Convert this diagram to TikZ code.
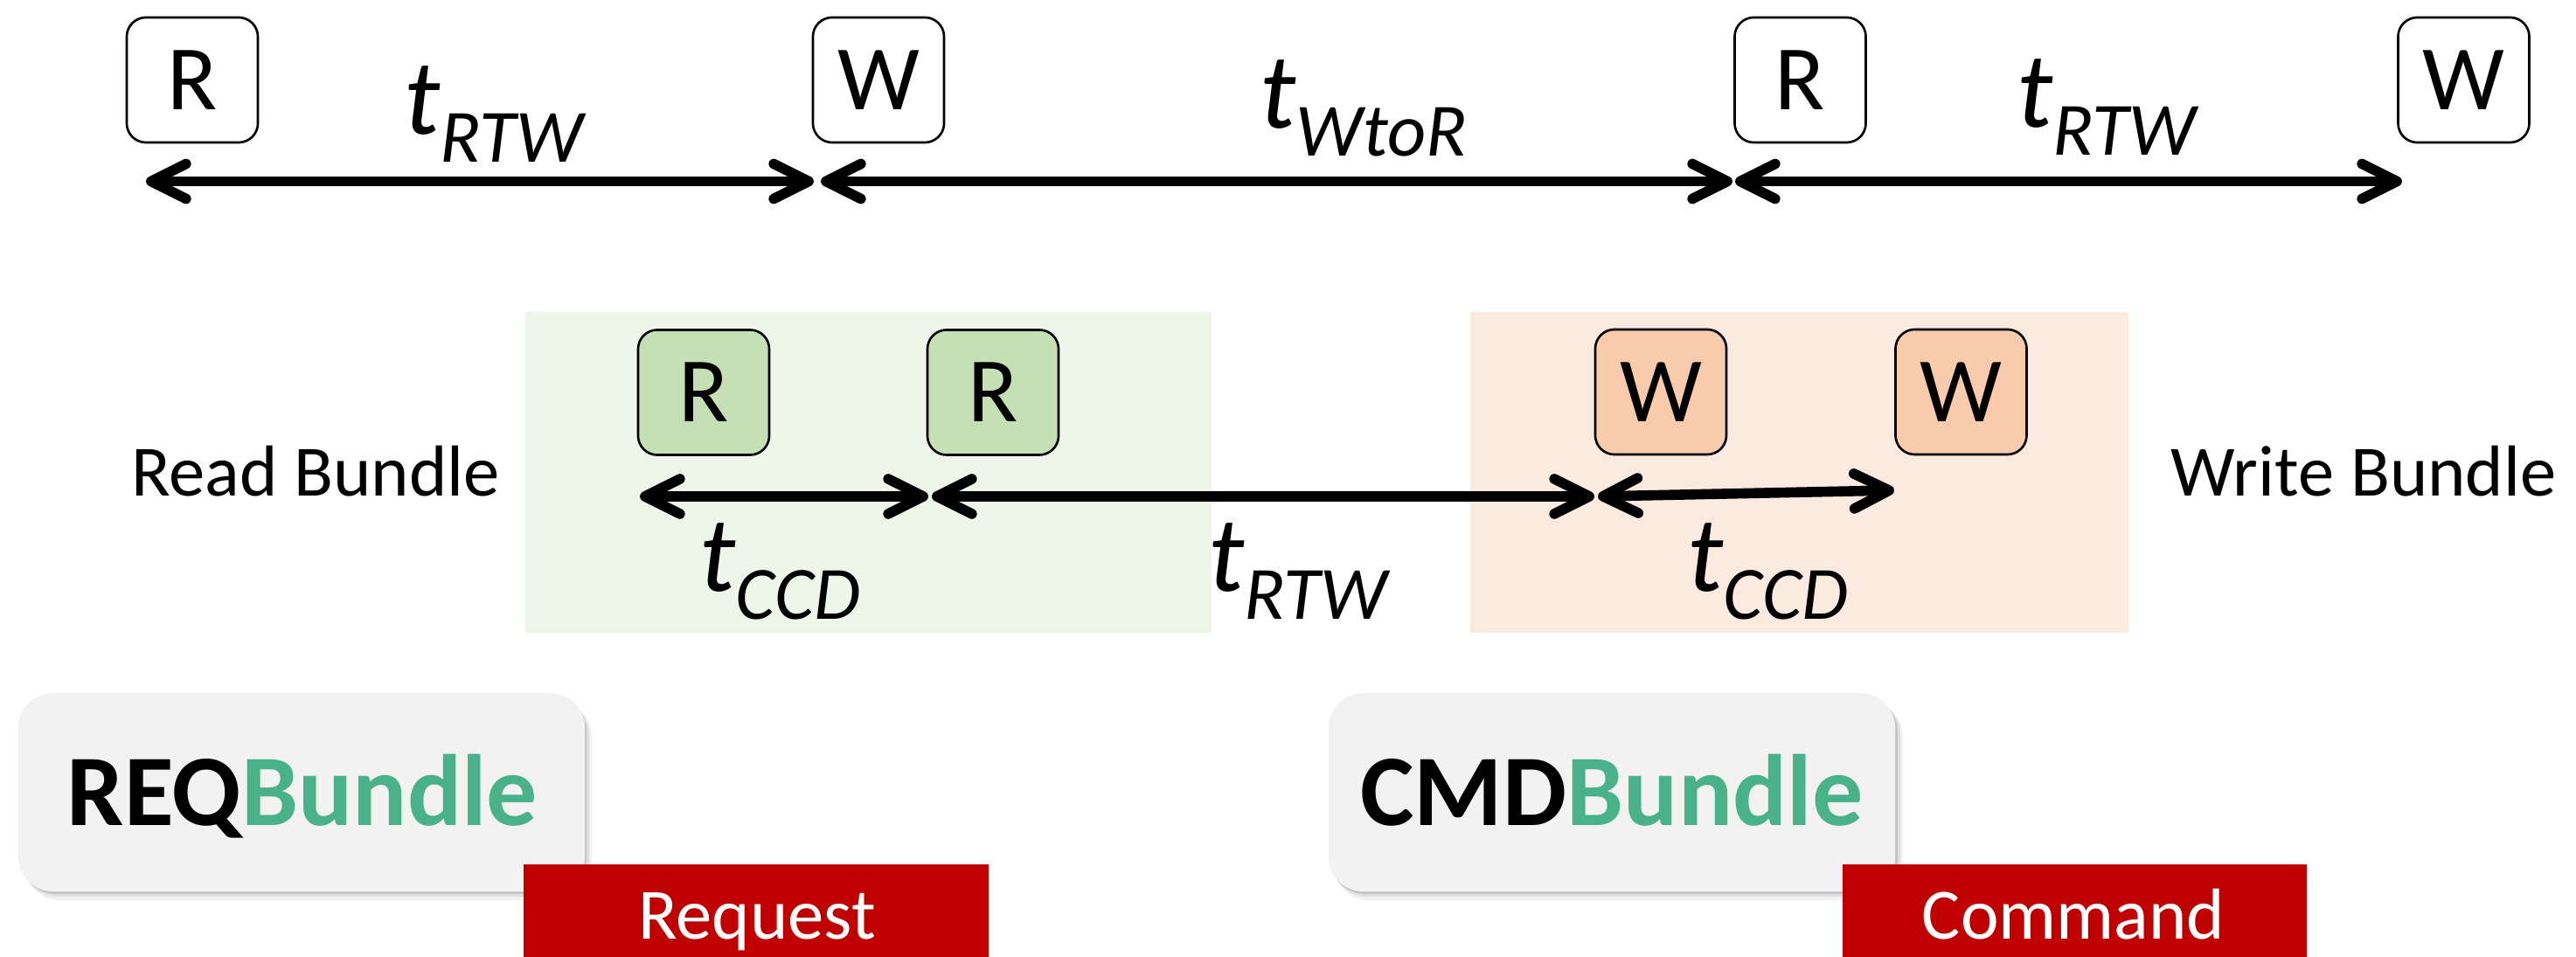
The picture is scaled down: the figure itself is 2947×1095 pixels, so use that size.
\documentclass[tikz,border=0pt]{standalone}
\usepackage{fontspec}
\setmainfont{Carlito}
\usetikzlibrary{arrows.meta}

\definecolor{boxgreen}{HTML}{C5E0B4}
\definecolor{boxorange}{HTML}{F8CBAD}
\definecolor{bggreen}{HTML}{EEF6EA}
\definecolor{bgorange}{HTML}{FBEADF}
\definecolor{panelgray}{HTML}{F2F2F2}
\definecolor{bundlegreen}{HTML}{4AB28A}
\definecolor{tagred}{HTML}{C00000}

% timing parameter: italic t with a lowered italic subscript
\newcommand{\tlab}[1]{{\fontsize{35}{40}\selectfont\itshape t}\raisebox{-0.31cm}{\fontsize{24.5}{28}\selectfont\itshape #1}}

\begin{document}
\begin{tikzpicture}[x=0.01cm, y=-0.01cm,
  opbox/.style={draw=black, line width=0.75pt, rounded corners=0.22cm,
    minimum width=1.5cm, minimum height=1.43cm, inner sep=0pt,
    font=\fontsize{30}{36}\selectfont},
  rdbox/.style={opbox, fill=boxgreen},
  wrbox/.style={opbox, fill=boxorange},
  barb/.tip={Straight Barb[length=4mm,width=4mm,round]},
  timespan/.style={line width=3.3pt, barb-barb},
  tlabel/.style={anchor=base west, inner sep=0pt},
  zone/.style={anchor=north west, inner sep=0pt, minimum height=3.67cm},
  bundlelabel/.style={anchor=base, inner sep=0pt, font=\fontsize{23.5}{28}\selectfont},
  panel/.style={fill=panelgray, rounded corners=0.4cm, minimum width=6.48cm,
    minimum height=2.27cm, inner sep=0pt},
  panelshadow/.style={fill=black, rounded corners=0.4cm},
  paneltext/.style={anchor=base, inner sep=0pt, font=\fontsize{33}{40}\selectfont\bfseries},
  tagbox/.style={fill=tagred, anchor=north west, minimum height=1.07cm, inner sep=0pt},
  tagtext/.style={anchor=base, inner sep=0pt, text=white, font=\fontsize{23.5}{28}\selectfont}
]
\useasboundingbox (0,0) rectangle (2947,1095);

% ---------- top row: R / W sequence ----------
\node[opbox] (r1) at (220,91.5) {R};
\node[opbox] (w1) at (1005,91.5) {W};
\node[opbox] (r2) at (2059.5,91.5) {R};
\node[opbox] (w2) at (2818.5,91.5) {W};

\coordinate (t0) at (167,207.5);
\coordinate (t1a) at (931,207.5);
\coordinate (t1b) at (939,207.5);
\coordinate (t2a) at (1982,207.5);
\coordinate (t2b) at (1985,207.5);
\coordinate (t3) at (2748,207.5);
\draw[timespan] (t0) -- (t1a);
\draw[timespan] (t1b) -- (t2a);
\draw[timespan] (t2b) -- (t3);

\node[tlabel] (lt1) at (462,154) {\tlab{RTW}};
\node[tlabel] (lt2) at (1441,147) {\tlab{WtoR}};
\node[tlabel] (lt3) at (2307,146) {\tlab{RTW}};

% ---------- middle row: read and write bundles ----------
\node[zone, fill=bggreen, minimum width=7.85cm] (readzone) at (600,356) {};
\node[zone, fill=bgorange, minimum width=7.53cm] (writezone) at (1681,356) {};

\coordinate (m0) at (732,568);
\coordinate (m1a) at (1062,568);
\coordinate (m1b) at (1066,568);
\coordinate (m2a) at (1824,568);
\coordinate (m2b) at (1828,568);
\coordinate (m3) at (2167,561);
\draw[timespan] (m0) -- (m1a);
\draw[timespan] (m1b) -- (m2a);
\draw[timespan] (m2b) -- (m3);

\node[rdbox] (br1) at (805,449) {R};
\node[rdbox] (br2) at (1136,449) {R};
\node[wrbox] (bw1) at (1900,448.5) {W};
\node[wrbox] (bw2) at (2243.5,448.5) {W};

\node[tlabel] (lm1) at (800,677) {\tlab{CCD}};
\node[tlabel] (lm2) at (1382,677) {\tlab{RTW}};
\node[tlabel] (lm3) at (1930,677) {\tlab{CCD}};

\node[bundlelabel] (readlbl) at (361,568) {Read Bundle};
\node[bundlelabel] (writelbl) at (2704,568) {Write Bundle};

% ---------- bottom: bundle panels with tags ----------
\fill[panelshadow, opacity=0.05] (28,803) rectangle (677,1030);
\fill[panelshadow, opacity=0.08] (26,800) rectangle (674,1026);
\fill[panelshadow, opacity=0.12] (24,797) rectangle (671,1023);
\node[panel] (reqpanel) at (345,906.5) {};
\node[paneltext] (reqtext) at (346,945) {REQ\textcolor{bundlegreen}{Bundle}};

\fill[panelshadow, opacity=0.05] (1526,803) rectangle (2177,1030);
\fill[panelshadow, opacity=0.08] (1524,800) rectangle (2174,1026);
\fill[panelshadow, opacity=0.12] (1522,797) rectangle (2171,1023);
\node[panel] (cmdpanel) at (1844,906.5) {};
\node[paneltext] (cmdtext) at (1844,945) {CMD\textcolor{bundlegreen}{Bundle}};

\node[tagbox, minimum width=5.32cm] (reqtag) at (598,988) {};
\node[tagtext] (reqtagtext) at (866,1075) {Request};
\node[tagbox, minimum width=5.31cm] (cmdtag) at (2107,988) {};
\node[tagtext] (cmdtagtext) at (2372,1075) {Command};
\end{tikzpicture}
\end{document}
